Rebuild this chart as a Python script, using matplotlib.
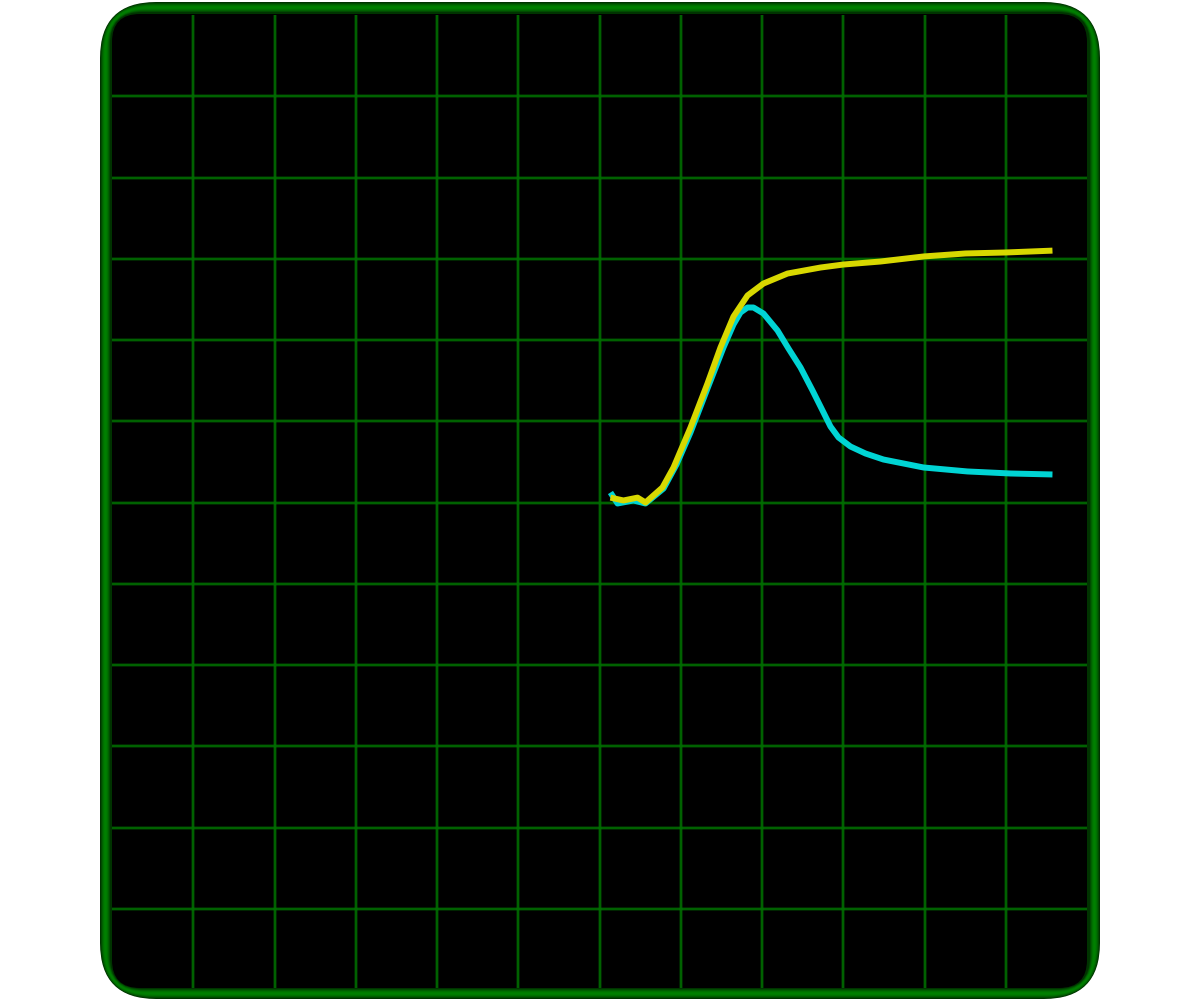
import numpy as np
import matplotlib
matplotlib.use("Agg")
import matplotlib.pyplot as plt
from matplotlib.patches import FancyBboxPatch
from matplotlib.transforms import IdentityTransform

# Trace data in screen divisions (12 x 12 graticule, centre = 0,0)
ch1_x = [0.135, 0.295, 0.468, 0.566, 0.775, 0.911, 1.12, 1.329, 1.489, 1.649,
         1.822, 2.018, 2.314, 2.72, 3.003, 3.458, 3.988, 4.505, 4.997, 5.575]
ch1_y = [0.06, 0.025, 0.06, 0.0, 0.185, 0.431, 0.923, 1.465, 1.908, 2.289,
         2.548, 2.695, 2.818, 2.892, 2.929, 2.966, 3.028, 3.065, 3.077, 3.10]

ch2_x = [0.135, 0.222, 0.418, 0.566, 0.788, 0.948, 1.12, 1.329, 1.526, 1.649,
         1.735, 1.822, 1.895, 2.018, 2.191, 2.326, 2.474, 2.622, 2.745, 2.843,
         2.942, 3.089, 3.274, 3.495, 3.988, 4.529, 5.058, 5.575]
ch2_y = [0.123, -0.012, 0.025, -0.012, 0.172, 0.468, 0.862, 1.403, 1.908, 2.191,
         2.338, 2.40, 2.40, 2.326, 2.117, 1.895, 1.662, 1.378, 1.132, 0.935,
         0.80, 0.689, 0.603, 0.529, 0.431, 0.382, 0.357, 0.345]

divisions = list(range(-5, 6))

W, H = 1200, 1000
fig = plt.figure(figsize=(W / 100, H / 100), dpi=100)
fig.patch.set_facecolor("white")
ident = IdentityTransform()

def rrect(x0, y0_img, x1, y1_img, r, color, z):
    # image coords (y down) -> display coords (y up)
    p = FancyBboxPatch((x0, H - y1_img), x1 - x0, y1_img - y0_img,
                       boxstyle=f"round,pad=0,rounding_size={r}",
                       transform=ident, facecolor=color, edgecolor="none",
                       zorder=z)
    fig.add_artist(p)
    return p

# Bezel ring with gradient (dark outer -> bright middle -> dark inner)
n = 12
for i in range(n):
    t = i / (n - 1)
    g = 0.20 + 0.30 * np.sin(np.pi * min(1.0, t * 1.1))
    col = (0.0, g, 0.0)
    r = 56 - (56 - 30) * t
    rrect(100 + i, 2 + i, 1100 - i, 999 - i, r, col, -3 + i * 0.01)

screen = rrect(112, 14, 1087, 988, 28, "black", -2)

ax = fig.add_axes([112 / W, 1 - 990 / H, 975 / W, 975 / H])
ax.set_xlim(-6, 6)
ax.set_ylim(-6, 6)
ax.set_facecolor("none")
ax.axis("off")

for d in divisions:
    for ln in (ax.axvline(d, color="#008000", lw=2.6, alpha=0.35),
               ax.axvline(d, color="#006c00", lw=1.2),
               ax.axhline(d, color="#008000", lw=2.6, alpha=0.35),
               ax.axhline(d, color="#006c00", lw=1.2)):
        ln.set_clip_path(screen)

for xs, ys, c in ((ch2_x, ch2_y, "#00d4d4"), (ch1_x, ch1_y, "#d8d800")):
    l1, = ax.plot(xs, ys, color=c, lw=4.3, solid_capstyle="butt",
                  solid_joinstyle="round")
    l1.set_clip_path(screen)

fig.savefig("out.png", dpi=100)
